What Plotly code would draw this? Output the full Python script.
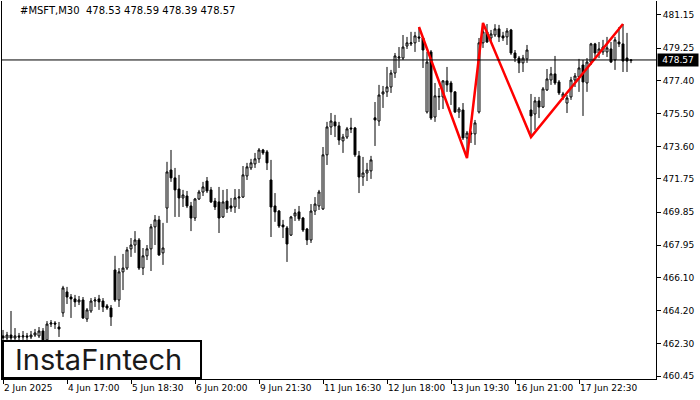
import plotly.graph_objects as go

# ---- data (MSFT M30) ----
opens = [462.75,462.63,462.80,462.63,462.75,462.69,462.75,462.69,462.80,462.75,
         463.03,462.52,463.43,463.49,463.26,464.07,465.27,464.98,464.87,464.70,
         464.81,463.72,464.18,464.75,464.87,464.75,464.47,464.35,466.53,464.81,
         466.42,466.64,467.74,467.96,468.25,466.64,467.34,467.74,469.00,469.40,
         467.51,470.08,472.26,471.81,471.17,470.66,470.77,470.20,469.51,470.60,
         471.00,471.63,471.12,470.48,470.43,469.57,470.48,470.20,470.14,470.66,
         470.71,471.92,472.38,472.61,472.90,473.41,473.30,471.69,470.20,469.91,
         469.11,468.94,468.53,469.63,469.86,469.51,468.88,468.25,469.91,470.20,
         470.03,473.13,474.73,475.02,474.79,473.93,474.15,474.67,474.67,473.07,
         471.86,472.09,472.21,475.25,475.07,476.62,476.74,477.02,477.82,478.68,
         478.68,479.37,479.49,479.55,479.89,479.83,475.59,479.03,475.30,476.45,
         476.45,477.37,477.25,476.74,475.59,475.70,474.10,474.38,474.33,475.59,
         479.55,480.18,479.83,480.00,480.35,479.95,479.89,480.29,478.97,478.68,
         478.40,478.63,475.70,475.47,476.22,475.87,476.85,477.42,477.77,477.31,
         476.45,476.10,476.45,477.42,477.60,478.28,477.25,478.45,479.49,478.97,
         479.03,479.03,479.20,478.57,479.60,479.49,478.68,478.53]
highs = [463.09,462.98,464.18,463.20,462.92,463.03,462.92,463.03,463.15,463.26,
         463.20,463.60,463.66,463.60,463.55,465.62,465.56,465.15,465.10,465.04,
         464.98,464.35,464.92,464.98,465.10,464.92,464.58,464.52,467.34,466.64,
         467.45,467.85,468.36,468.76,468.36,467.79,467.96,469.17,469.68,469.63,
         469.23,472.73,473.41,472.38,471.98,471.12,471.06,470.43,470.66,471.12,
         471.58,471.86,471.29,470.66,471.29,471.12,471.17,470.66,471.17,471.17,
         472.49,472.67,472.90,473.24,473.52,473.47,473.41,472.84,470.94,469.97,
         469.40,469.05,469.63,470.03,470.20,469.57,468.94,470.31,470.71,471.12,
         473.58,475.02,475.53,475.42,475.02,474.33,474.73,475.25,474.73,473.35,
         473.01,472.67,473.07,476.16,477.14,477.08,478.17,478.00,478.97,479.31,
         480.00,479.89,480.18,480.18,480.46,479.89,479.03,479.14,477.25,476.96,
         477.42,478.17,477.37,476.79,475.87,476.10,474.50,474.50,475.13,479.83,
         480.69,480.63,480.29,480.62,480.58,480.18,480.40,480.35,479.14,478.80,
         478.86,479.43,476.62,476.45,476.45,477.02,478.05,478.17,478.80,477.42,
         476.74,476.56,477.60,477.82,478.63,478.57,478.68,479.55,479.55,479.60,
         479.72,479.89,479.60,479.89,480.46,480.63,480.12,478.59]
lows = [462.23,462.41,462.23,462.41,462.41,462.52,462.52,462.57,462.69,462.63,
        462.46,462.46,463.26,463.15,462.69,463.84,464.58,463.78,464.41,464.52,
        463.72,463.55,464.07,464.41,464.24,464.12,464.24,463.32,464.70,464.41,
        465.38,466.53,467.28,467.51,466.53,466.24,467.10,466.47,467.96,467.34,
        466.82,469.23,471.58,469.57,469.57,470.14,470.08,468.76,469.34,470.54,
        470.77,470.94,470.37,469.97,468.65,469.51,469.80,469.86,469.80,470.03,
        470.66,471.69,472.26,472.38,472.67,473.13,472.26,468.42,469.29,468.94,
        468.36,466.99,468.48,469.34,469.34,468.71,467.96,468.08,469.68,469.97,
        469.97,472.55,474.27,474.15,473.70,473.24,474.04,474.38,473.01,470.94,
        471.35,471.63,471.75,473.64,474.79,475.82,476.45,476.68,477.54,478.11,
        478.57,479.20,479.37,479.03,479.60,478.11,475.50,475.13,475.02,475.70,
        475.76,476.74,475.99,475.53,475.24,473.98,472.95,473.81,473.70,475.50,
        479.26,479.55,479.55,479.89,479.60,479.66,479.43,478.86,478.45,477.82,
        477.88,478.40,474.15,474.56,475.24,475.82,476.79,477.14,477.14,476.56,
        476.28,475.53,476.28,477.02,476.74,475.36,476.74,478.28,478.74,478.68,
        478.86,478.74,478.40,478.00,479.31,477.88,477.88,478.39]
closes = [462.63,462.80,462.63,462.75,462.69,462.75,462.69,462.80,462.92,463.03,
          462.52,463.43,463.49,463.43,463.15,465.50,464.98,464.87,464.70,464.81,
          463.78,464.24,464.75,464.81,464.70,464.41,464.35,463.84,464.81,466.42,
          466.64,467.68,467.96,468.25,466.64,467.34,467.74,469.00,469.40,467.39,
          467.79,472.15,471.81,471.12,470.66,470.83,470.20,469.51,470.60,471.00,
          471.29,471.06,470.43,470.14,469.51,470.43,470.03,470.08,470.66,470.71,
          471.98,472.44,472.67,472.90,473.41,473.24,472.67,470.14,469.86,469.05,
          469.00,468.02,469.57,469.80,469.46,468.82,468.25,469.91,470.31,471.00,
          473.13,474.73,475.07,474.79,473.98,474.15,474.62,474.62,473.13,471.86,
          472.09,472.26,472.84,475.13,476.56,476.74,477.02,477.82,478.80,478.74,
          479.31,479.55,479.55,479.95,479.83,479.14,478.45,475.24,476.51,476.48,
          477.37,477.14,476.74,475.59,475.76,474.10,474.38,474.33,474.96,479.55,
          480.18,479.60,480.06,480.35,479.89,479.83,480.23,478.97,478.68,478.40,
          478.68,479.14,475.36,476.22,475.87,476.91,477.48,477.77,477.25,476.68,
          476.62,476.39,477.42,477.65,478.11,477.31,478.45,479.49,478.97,479.20,
          479.31,479.26,478.45,479.72,479.49,478.51,478.51,478.57]

time_tick_bars = [0, 16, 32, 48, 64, 80, 96, 112, 128, 144]
time_tick_labels = ["2 Jun 2025", "4 Jun 17:00", "5 Jun 18:30", "6 Jun 20:00",
                    "9 Jun 21:30", "11 Jun 16:30", "12 Jun 18:00", "13 Jun 19:30",
                    "16 Jun 21:00", "17 Jun 22:30"]
price_ticks = [481.15, 479.25, 477.40, 475.50, 473.60, 471.75, 469.85,
               467.95, 466.10, 464.20, 462.30, 460.45]
price_tick_labels = ["%.2f" % v for v in price_ticks]

# triple-top pattern pivots: (bar index, uses high or low)
pattern_bars = [104, 116, 120, 132, 155]
pattern_side = ["high", "low", "high", "low", "high"]

symbol_title = "#MSFT,M30\u00a0\u00a0478.53 478.59 478.39 478.57"
current_price = closes[-1]

bars = list(range(len(opens)))
pattern_y = [highs[b] if s == "high" else lows[b] for b, s in zip(pattern_bars, pattern_side)]

FONT = "DejaVu Sans, sans-serif"
FS = 9

fig = go.Figure()
fig.add_trace(go.Candlestick(
    x=bars, open=opens, high=highs, low=lows, close=closes,
    increasing=dict(line=dict(color="black", width=1), fillcolor="white"),
    decreasing=dict(line=dict(color="black", width=1), fillcolor="black"),
    whiskerwidth=0, hoverinfo="skip", showlegend=False,
))
fig.add_trace(go.Scatter(
    x=pattern_bars, y=pattern_y, mode="lines",
    line=dict(color="#ff0000", width=2.5), hoverinfo="skip", showlegend=False,
))

fig.add_hline(y=current_price, line=dict(color="black", width=1))

fig.update_layout(
    width=700, height=400,
    margin=dict(l=2, r=44, t=1, b=21, autoexpand=False),
    paper_bgcolor="white", plot_bgcolor="white",
    font=dict(family=FONT, size=FS, color="black"),
    xaxis=dict(
        range=[-0.25, 163.25], rangeslider=dict(visible=False),
        showgrid=False, zeroline=False, automargin=False,
        showline=True, linecolor="black", linewidth=1, mirror=False,
        tickmode="array", tickvals=time_tick_bars, ticktext=time_tick_labels,
        ticks="outside", ticklen=4, tickcolor="black", tickwidth=1,
        tickangle=0, ticklabelposition="outside right",
        tickfont=dict(family=FONT, size=FS, color="black"),
    ),
    yaxis=dict(
        range=[460.28, 481.95], side="right", automargin=False,
        showgrid=False, zeroline=False,
        showline=True, linecolor="black", linewidth=1, mirror=True,
        tickmode="array", tickvals=price_ticks, ticktext=price_tick_labels,
        ticks="outside", ticklen=4, tickcolor="black", tickwidth=1,
        tickfont=dict(family=FONT, size=FS, color="black"),
    ),
    hovermode=False,
)

# symbol title
fig.add_annotation(
    text=symbol_title, xref="paper", yref="paper", x=0.024, y=0.974,
    xanchor="left", yanchor="middle", showarrow=False,
    font=dict(family=FONT, size=10, color="black"),
)
# current price marker on the axis
fig.add_annotation(
    text="%.2f" % current_price, xref="paper", yref="y", x=1, y=current_price,
    xanchor="left", yanchor="middle", xshift=1, showarrow=False,
    bgcolor="black", font=dict(family=FONT, size=FS, color="white"),
    borderpad=1, width=38,
)
# logo box
fig.add_shape(type="rect", xref="paper", yref="paper",
              x0=0.0015, x1=0.3043, y0=0.0026, y1=0.1005,
              line=dict(color="black", width=2), fillcolor="white", layer="above")
fig.add_annotation(
    text="InstaF\u0131ntech", xref="paper", yref="paper", x=0.1468, y=0.052,
    xanchor="center", yanchor="middle", showarrow=False,
    font=dict(family="Inter, Lato, sans-serif", size=29, color="#1a1a1a", weight=400),
)

fig.write_html("out.html",
               config={"displayModeBar": False, "staticPlot": True},
               post_script="document.body.style.margin='0';document.body.style.overflow='hidden';")
